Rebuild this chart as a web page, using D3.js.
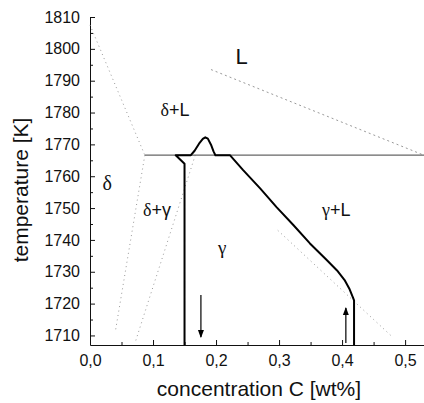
<!DOCTYPE html>
<html>
<head>
<meta charset="utf-8">
<script src="https://cdn.jsdelivr.net/npm/d3@7"></script>
<style>
  body { margin: 0; background: #fff; }
  svg { display: block; font-family: "Liberation Sans", Arial, sans-serif; }
</style>
</head>
<body>
<div id="chart"></div>
<script>
// axis ticks
const xTicks = [0, 0.1, 0.2, 0.3, 0.4, 0.5];
const xMinor = [0.05, 0.15, 0.25, 0.35, 0.45];
const yTicks = [1710, 1720, 1730, 1740, 1750, 1760, 1770, 1780, 1790, 1800, 1810];
const yMinor = [1715, 1725, 1735, 1745, 1755, 1765, 1775, 1785, 1795, 1805];

// phase boundaries (wt% C, K)
const liquidus = [[0.192, 1793.5], [0.53, 1766.6]];
const solidusDelta = [[0.0, 1807.5], [0.087, 1766.6]];
const deltaBound = [[0.087, 1766.6], [0.04, 1711]];
const gammaBound = [[0.167, 1766.6], [0.072, 1708]];
const solidusGamma = [[0.298, 1743], [0.48, 1709.5]];
const peritectic = [[0.087, 1766.6], [0.53, 1766.6]];

// simulated interface
const interfaceLine = [
  [0.15, 1707], [0.15, 1763.9], [0.136, 1766.6], [0.16, 1766.6],
  [0.166, 1768], [0.173, 1770.2], [0.179, 1771.7], [0.183, 1772.2],
  [0.187, 1771.8], [0.192, 1769.9], [0.196, 1767.8], [0.199, 1766.6],
  [0.222, 1766.6], [0.243, 1761.9],
  [0.27, 1756.2], [0.296, 1750.3], [0.323, 1744.6], [0.349, 1738.9],
  [0.376, 1733.6], [0.392, 1730.4], [0.404, 1727.4], [0.412, 1724.5],
  [0.417, 1722], [0.419, 1721], [0.419, 1707]
];

// arrows [x, from T, to T]
const arrows = [[0.176, 1722.7, 1709.5], [0.406, 1707.6, 1718.6]];

// region labels [x, T, greek, rest, size]
const labels = [
  [0.231, 1795.3, "", "L", 22],
  [0.112, 1778.8, "δ", "+L", 18],
  [0.02, 1755.8, "δ", "", 20],
  [0.084, 1747.5, "δ", "+γ", 18],
  [0.203, 1735.7, "γ", "", 19],
  [0.368, 1747.5, "γ", "+L", 18]
];

const width = 424, height = 403;
const svg = d3.select("#chart").append("svg")
  .attr("width", width).attr("height", height);

const x = d3.scaleLinear().domain([0, 0.53]).range([90, 424]);
const y = d3.scaleLinear().domain([1707, 1810]).range([345, 17]);

const fmt = d => d.toFixed(1).replace(".", ",");

// axes
svg.append("g").attr("transform", "translate(0,345)")
  .call(d3.axisBottom(x).tickValues(xTicks).tickFormat(fmt)
    .tickSizeInner(-5).tickSizeOuter(0).tickPadding(10));
svg.append("g").attr("transform", "translate(0,345)")
  .call(d3.axisBottom(x).tickValues(xMinor).tickFormat("")
    .tickSizeInner(-3).tickSizeOuter(0))
  .select(".domain").remove();

svg.append("g").attr("transform", "translate(90,0)")
  .call(d3.axisLeft(y).tickValues(yTicks).tickFormat(d3.format("d"))
    .tickSizeInner(-5).tickSizeOuter(0).tickPadding(10));
svg.append("g").attr("transform", "translate(90,0)")
  .call(d3.axisLeft(y).tickValues(yMinor).tickFormat("")
    .tickSizeInner(-3).tickSizeOuter(0))
  .select(".domain").remove();

svg.selectAll(".tick text")
  .attr("font-size", 16).attr("fill", "#111")
  .attr("font-family", "Liberation Sans, Arial, sans-serif");
svg.selectAll(".domain, .tick line").attr("stroke", "#111");

// axis titles
svg.append("text")
  .attr("x", 259).attr("y", 396)
  .attr("text-anchor", "middle").attr("font-size", 21).attr("fill", "#111")
  .text("concentration C [wt%]");
svg.append("text")
  .attr("transform", "translate(28,190) rotate(-90)")
  .attr("text-anchor", "middle").attr("font-size", 21).attr("fill", "#111")
  .text("temperature [K]");

const line = d3.line().x(d => x(d[0])).y(d => y(d[1]));

// dotted phase boundaries
[solidusDelta, deltaBound, gammaBound, solidusGamma].forEach(d => {
  svg.append("path").attr("d", line(d))
    .attr("fill", "none").attr("stroke", "#999")
    .attr("stroke-width", 1).attr("stroke-dasharray", "1,3.5");
});
svg.append("path").attr("d", line(liquidus))
  .attr("fill", "none").attr("stroke", "#999")
  .attr("stroke-width", 1).attr("stroke-dasharray", "2,3");

svg.append("path").attr("d", line(peritectic))
  .attr("fill", "none").attr("stroke", "#666").attr("stroke-width", 1.2);

// interface track
svg.append("path").attr("d", line(interfaceLine))
  .attr("fill", "none").attr("stroke", "#000")
  .attr("stroke-width", 2).attr("stroke-linejoin", "round");

// arrows
svg.append("defs").append("marker")
  .attr("id", "head").attr("viewBox", "0 0 8 8")
  .attr("refX", 7).attr("refY", 4)
  .attr("markerWidth", 8).attr("markerHeight", 8)
  .attr("markerUnits", "userSpaceOnUse")
  .attr("orient", "auto")
  .append("path").attr("d", "M0,1 L8,4 L0,7 Z").attr("fill", "#000");

arrows.forEach(a => {
  svg.append("line")
    .attr("x1", x(a[0])).attr("x2", x(a[0]))
    .attr("y1", y(a[1])).attr("y2", y(a[2]))
    .attr("stroke", "#000").attr("stroke-width", 1.2)
    .attr("marker-end", "url(#head)");
});

// region labels
labels.forEach(l => {
  const t = svg.append("text")
    .attr("x", x(l[0])).attr("y", y(l[1]))
    .attr("font-size", l[4]).attr("fill", "#111");
  if (l[2]) t.append("tspan")
    .attr("font-family", "Liberation Serif, Times New Roman, serif")
    .text(l[2]);
  if (l[3]) t.append("tspan").text(l[3]);
});
</script>
</body>
</html>
